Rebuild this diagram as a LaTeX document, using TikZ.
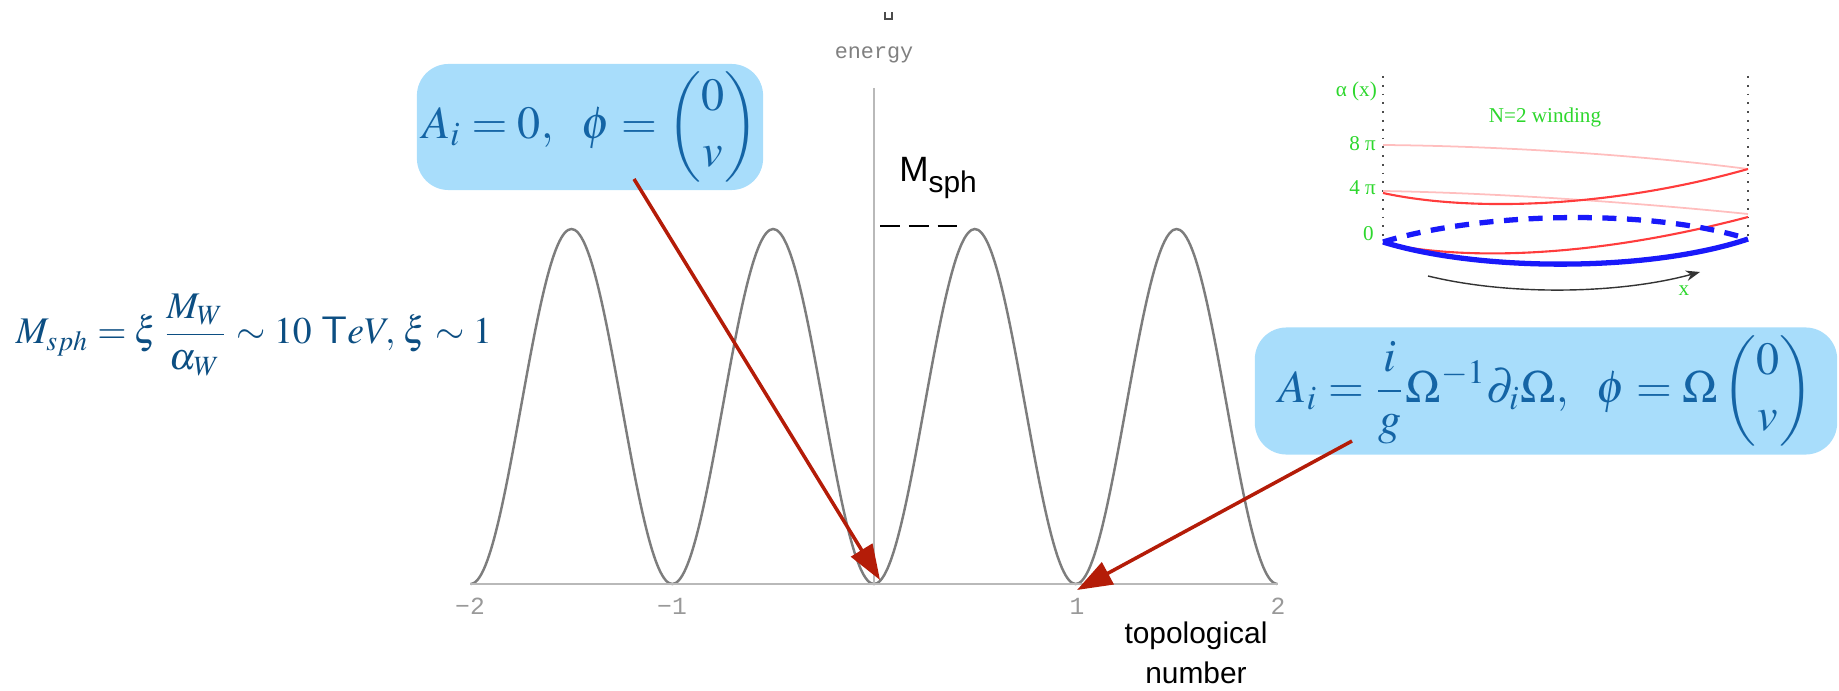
\documentclass[tikz,border=0pt]{standalone}
\usepackage{amsmath}
\usepackage{mathptmx}
\usepackage{fontspec}
\setmainfont{Liberation Serif}
\setsansfont{Liberation Sans}
\setmonofont{Liberation Mono}
\usetikzlibrary{arrows.meta}
\definecolor{boxblue}{RGB}{168,221,251}
\definecolor{mathblue}{RGB}{20,100,165}
\definecolor{darkblue}{RGB}{12,78,130}
\definecolor{arrowred}{RGB}{180,28,8}
\definecolor{curvegray}{RGB}{125,125,125}
\definecolor{axisgray}{RGB}{185,185,185}
\definecolor{insetgreen}{RGB}{45,215,45}
\definecolor{insetred}{RGB}{255,60,60}
\definecolor{insetpink}{RGB}{255,190,190}
\definecolor{insetblue}{RGB}{25,25,250}

\begin{document}
\begin{tikzpicture}[x=0.01cm, y=-0.01cm,
    vacuum/.style={rounded corners=9pt, fill=boxblue, text=mathblue, font=\fontsize{13.1}{16}\selectfont, inner sep=0pt},
    ticklabel/.style={text=gray!80, font=\ttfamily\fontsize{7}{8}\selectfont},
    inlabel/.style={text=insetgreen, font=\fontsize{6}{7}\selectfont, inner sep=1pt},
    pointer/.style={-{Triangle[length=10pt,width=7pt]}, arrowred, line width=1pt}]
	\useasboundingbox (0,0) rectangle (1839,691);
	% potential
	\draw[curvegray, line width=0.7pt] plot[domain=-2:2, samples=241, smooth] ({874+201.7*\x},{584-355*pow(sin(180*\x),2)});
	\draw[axisgray, line width=0.6pt] (470,584) -- (1278,584);
	\draw[axisgray, line width=0.6pt] (874,88) -- (874,584);
	\node[ticklabel] (tm2) at (470,606) {−2};
	\node[ticklabel] (tm1) at (672,606) {−1};
	\node[ticklabel] (tp1) at (1077,606) {1};
	\node[ticklabel] (tp2) at (1278,606) {2};
	\node[text=gray, font=\ttfamily\fontsize{6.2}{7}\selectfont] (energy) at (874,55) {energy};
	\draw[black!70, line width=0.4pt] (885,12) -- (885,19) -- (892,19) -- (892,12);
	\node[font=\sffamily\fontsize{10}{12}\selectfont] (msph) at (938,178) {M\raisebox{-0.3em}{\fontsize{8.5}{9}\selectfont sph}};
	\draw[black, line width=0.8pt, dash pattern=on 5.6pt off 2.6pt] (880,226) -- (958,226);
	\node[align=center, font=\sffamily\fontsize{8.5}{11.5}\selectfont] (topo) at (1196,653) {topological\\number};
	% vacua
	\node[vacuum, minimum width=3.46cm, minimum height=1.26cm] (box1) at (590,127)
		{$A_i = 0,\ \ \phi = \begin{pmatrix}0\\ v\end{pmatrix}$};
	\node[vacuum, minimum width=5.82cm, minimum height=1.27cm] (box2) at (1546,391)
		{$\displaystyle A_i = \frac{i}{g}\Omega^{-1}\partial_i\Omega,\ \ \phi = \Omega\begin{pmatrix}0\\ v\end{pmatrix}$};
	\node[text=darkblue, font=\fontsize{10.7}{13}\selectfont] (mass) at (254,335)
		{$\displaystyle M_{sph} = \xi\,\frac{M_W}{\alpha_W} \sim 10\ \mathsf{T}eV,\, \xi \sim 1$};
	\coordinate (from1) at (634,179);
	\coordinate (min0) at (880,580);
	\coordinate (from2) at (1352,441);
	\coordinate (min1) at (1077,590);
	\draw[pointer] (from1) -- (min0);
	\draw[pointer] (from2) -- (min1);
	% winding inset
	\draw[black!70, line width=0.5pt, dotted] (1383,76) -- (1383,242);
	\draw[black!70, line width=0.5pt, dotted] (1748,76) -- (1748,239);
	\draw[insetpink, line width=0.5pt] (1383,145) .. controls (1500,146) and (1640,155) .. (1748,169);
	\draw[insetpink, line width=0.5pt] (1383,191) .. controls (1500,193) and (1640,203) .. (1748,214);
	\draw[insetred, line width=0.6pt] (1383,193) .. controls (1470,212) and (1610,208) .. (1748,169);
	\draw[insetred, line width=0.6pt] (1383,243) .. controls (1470,262) and (1600,256) .. (1748,217);
	\draw[insetblue, line width=1.5pt, dash pattern=on 4pt off 3pt] (1383,242) .. controls (1480,212) and (1650,208) .. (1748,239);
	\draw[insetblue, line width=1.5pt] (1383,242) .. controls (1480,272) and (1650,272) .. (1748,239);
	\draw[black!80, line width=0.4pt, -{Stealth[length=4pt,width=3pt]}] (1428,276) .. controls (1510,296) and (1620,294) .. (1700,272);
	\node[inlabel, anchor=east] (alpha) at (1381,91) {α (x)};
	\node[inlabel] (winding) at (1545,117) {N=2 winding};
	\node[inlabel, anchor=east] (eight) at (1380,144) {8 π};
	\node[inlabel, anchor=east] (four) at (1380,188) {4 π};
	\node[inlabel, anchor=east] (zero) at (1378,234) {0};
	\node[inlabel] (xlab) at (1684,291) {x};
\end{tikzpicture}
\end{document}
